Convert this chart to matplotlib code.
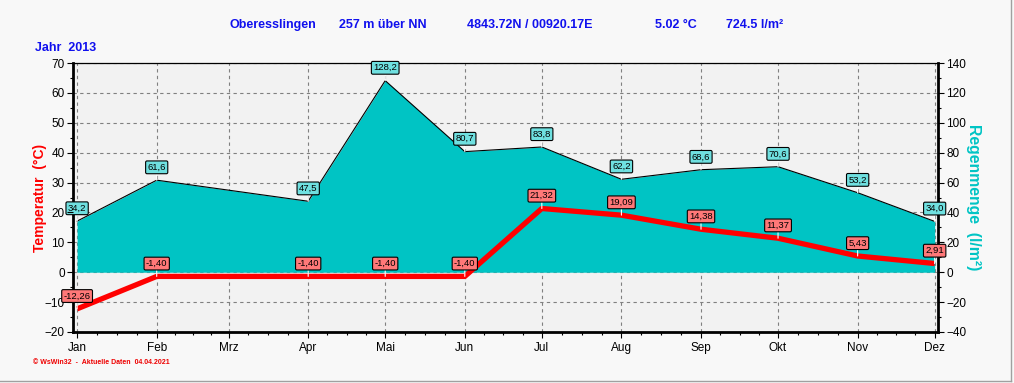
import matplotlib
matplotlib.use("Agg")
import matplotlib.pyplot as plt
from matplotlib.lines import Line2D

plt.rcParams['font.family'] = ['Liberation Sans', 'DejaVu Sans']

# month starts (day of year) and names
month_names = ['Jan', 'Feb', 'Mrz', 'Apr', 'Mai', 'Jun', 'Jul', 'Aug', 'Sep', 'Okt', 'Nov', 'Dez']
month_days = [0, 31, 59, 90, 120, 151, 181, 212, 243, 273, 304, 334]

# data points (Mrz missing)
data_days = [0, 31, 90, 120, 151, 181, 212, 243, 273, 304, 334]
temp = [-12.26, -1.40, -1.40, -1.40, -1.40, 21.32, 19.09, 14.38, 11.37, 5.43, 2.91]
rain = [34.2, 61.6, 47.5, 128.2, 80.7, 83.8, 62.2, 68.6, 70.6, 53.2, 34.0]

title_parts = ['Oberesslingen', '257 m über NN', '4843.72N / 00920.17E', '5.02 °C', '724.5 l/m²']
title_x = [229, 339, 467, 655, 726]

blue = '#1010ee'
cyan = '#00c4c4'

fig = plt.figure(figsize=(10.14, 3.83), dpi=100, facecolor='#f8f8f8')
W, H = 1014, 383
ax = fig.add_axes([73 / W, 1 - 332 / H, (938 - 73) / W, (332 - 63) / H])
axt = ax.twinx()

# rain on the base axes (right scale)
ax.set_facecolor('#f2f2f2')
ax.fill_between(data_days, 0, rain, color=cyan, zorder=2, lw=0)
ax.plot(data_days, rain, color='black', lw=0.8, zorder=3)
ax.set_ylim(-40, 140)
ax.set_yticks(range(-40, 141, 20))
ax.set_yticks(range(-30, 140, 20), minor=True)
ax.yaxis.tick_right()
ax.yaxis.set_label_position('right')
ax.set_axisbelow(True)
ax.grid(True, which='major', color='#808080', ls=(0, (3, 3)), lw=0.8)

ax.set_xlim(-1.6, 335.3)
ax.set_xticks(month_days)
ax.set_xticklabels(month_names)
minor = []
for a, b in zip(month_days[:-1], month_days[1:]):
    minor += [a + (b - a) * k / 4 for k in (1, 2, 3)]
ax.set_xticks(minor, minor=True)

for sp in ['left', 'bottom', 'right']:
    ax.spines[sp].set_linewidth(2)
ax.spines['top'].set_linewidth(0.9)
for s in axt.spines.values():
    s.set_visible(False)

ax.tick_params(axis='both', which='major', direction='out', length=4, width=0.8,
               labelsize=8.5, pad=2, colors='black')
ax.tick_params(axis='both', which='minor', direction='out', length=2.5, width=0.8)
ax.tick_params(axis='x', pad=3)

# temperature on the twin (left scale)
axt.plot(data_days, temp, color='#ff0000', lw=3.8, solid_capstyle='butt', zorder=5)
axt.set_ylim(-20, 70)
axt.set_yticks(range(-20, 71, 10))
axt.set_yticks(range(-15, 70, 10), minor=True)
axt.yaxis.tick_left()
axt.yaxis.set_label_position('left')
axt.tick_params(axis='y', which='major', direction='out', length=4, width=0.8, labelsize=8.5, pad=2)
axt.tick_params(axis='y', which='minor', direction='out', length=2.5, width=0.8)

for d, v in zip(data_days, rain):
    ax.annotate(f'{v:.1f}'.replace('.', ','), (d, v), xytext=(0, 6), textcoords='offset points',
                ha='center', va='bottom', fontsize=6.8, zorder=6,
                bbox=dict(boxstyle='round,pad=0.2,rounding_size=0.15', fc='#6fe0e0', ec='black', lw=0.8),
                arrowprops=dict(arrowstyle='-', color='white', lw=0.8, shrinkA=0, shrinkB=0))
for d, v in zip(data_days, temp):
    axt.annotate(f'{v:.2f}'.replace('.', ','), (d, v), xytext=(0, 6), textcoords='offset points',
                 ha='center', va='bottom', fontsize=6.8, zorder=7,
                 bbox=dict(boxstyle='round,pad=0.2,rounding_size=0.15', fc='#ff7878', ec='black', lw=0.8),
                 arrowprops=dict(arrowstyle='-', color='white', lw=0.8, shrinkA=0, shrinkB=0))

# axis titles
fig.text(40 / W, 1 - 198 / H, 'Temperatur  (°C)', rotation=90, color='#ff0000',
         fontsize=10, fontweight='bold', ha='center', va='center')
fig.text(974 / W, 1 - 197 / H, 'Regenmenge  (l/m²)', rotation=270, color=cyan,
         fontsize=11.3, fontweight='bold', ha='center', va='center')

for s, x in zip(title_parts, title_x):
    fig.text(x / W, 1 - 25 / H, s, color=blue, fontsize=9, fontweight='bold', ha='left', va='center')
fig.text(35 / W, 1 - 48 / H, 'Jahr  2013', color=blue, fontsize=9, fontweight='bold', ha='left', va='center')
fig.text(33 / W, 1 - 363 / H, '© WsWin32  -  Aktuelle Daten  04.04.2021', color='#ee0000',
         fontsize=5, fontweight='bold', ha='left', va='center')

# outer frame lines
fig.add_artist(Line2D([1011 / W, 1011 / W], [1 - 381 / H, 1], color='#a0a0a0', lw=1))
fig.add_artist(Line2D([0, 1011 / W], [1 - 381 / H, 1 - 381 / H], color='#a0a0a0', lw=1))

fig.savefig('out.png', dpi=100, facecolor=fig.get_facecolor())
